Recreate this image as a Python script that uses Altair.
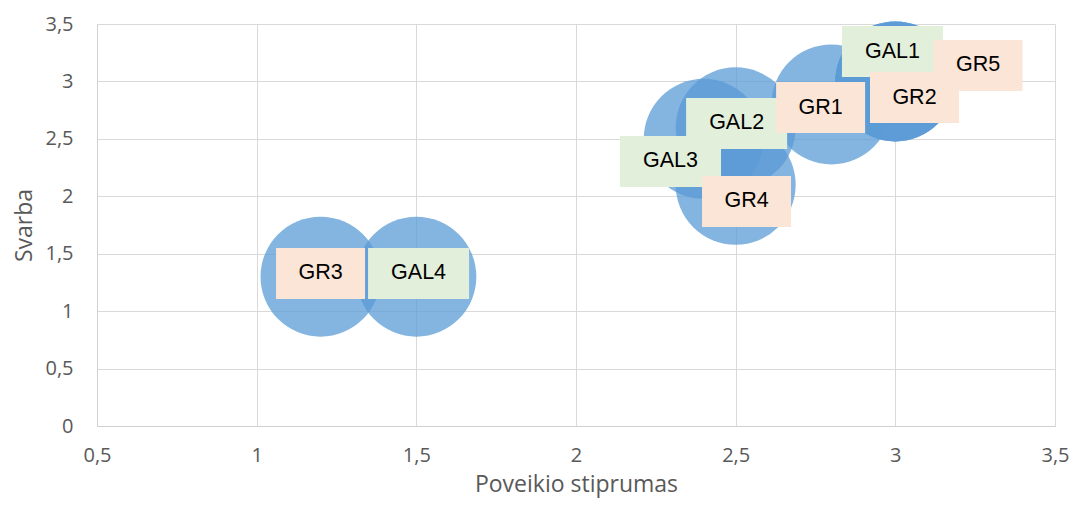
import altair as alt
import pandas as pd

# Bubble data
names = ["GAL1", "GAL2", "GAL3", "GAL4", "GR1", "GR2", "GR3", "GR4", "GR5"]
groups = ["GAL", "GAL", "GAL", "GAL", "GR", "GR", "GR", "GR", "GR"]
poveikis = [3.0, 2.5, 2.4, 1.5, 2.8, 3.0, 1.2, 2.5, 3.0]
svarba = [3.0, 2.6, 2.5, 1.3, 2.8, 3.0, 1.3, 2.1, 3.0]
# Data-label anchor positions (labels were moved by hand in the original)
label_x = [2.991, 2.503, 2.296, 1.507, 2.766, 3.060, 1.200, 2.534, 3.259]
label_y = [3.260, 2.634, 2.303, 1.328, 2.773, 2.860, 1.328, 1.955, 3.139]

x_ticks = [0.5, 1.0, 1.5, 2.0, 2.5, 3.0, 3.5]
y_ticks = [0.0, 0.5, 1.0, 1.5, 2.0, 2.5, 3.0, 3.5]

df = pd.DataFrame({
    "name": names, "group": groups, "x": poveikis, "y": svarba,
    "lx": label_x, "ly": label_y,
})

comma = "replace(toString(datum.value), '.', ',')"

xscale = alt.Scale(domain=[0.5, 3.5], nice=False, zero=False)
yscale = alt.Scale(domain=[0, 3.5], nice=False, zero=False)

xaxis = alt.Axis(values=x_ticks, labelExpr=comma, grid=True, ticks=False,
                 labelPadding=35, labelBaseline="alphabetic", labelFlush=False,
                 labelOverlap=False, title="Poveikio stiprumas",
                 titleX=479, titleY=65, titleBaseline="alphabetic")
yaxis = alt.Axis(values=y_ticks, labelExpr=comma, grid=True, ticks=False,
                 labelPadding=24, labelFlush=False, labelOverlap=False,
                 title="Svarba", titleX=-66, titleY=201,
                 titleBaseline="alphabetic")

base = alt.Chart(df)

bubbles = base.mark_circle(size=14400, color="#5b9bd5", opacity=0.75).encode(
    x=alt.X("x:Q", scale=xscale, axis=xaxis),
    y=alt.Y("y:Q", scale=yscale, axis=yaxis),
)

gal_boxes = base.transform_filter(alt.datum.group == "GAL").mark_rect(
    width=101, height=51, color="#e2efda"
).encode(
    x=alt.X("lx:Q", scale=xscale),
    y=alt.Y("ly:Q", scale=yscale),
)

gr_boxes = base.transform_filter(alt.datum.group == "GR").mark_rect(
    width=89, height=51, color="#fbe5d6"
).encode(
    x=alt.X("lx:Q", scale=xscale),
    y=alt.Y("ly:Q", scale=yscale),
)

texts = base.mark_text(font="Liberation Sans", fontSize=21.5, color="#000000",
                       align="center", baseline="middle").encode(
    x=alt.X("lx:Q", scale=xscale),
    y=alt.Y("ly:Q", scale=yscale),
    text="name:N",
)

chart = alt.layer(bubbles, gal_boxes, gr_boxes, texts).properties(
    width=958, height=402,
    padding={"left": 89, "top": 16, "right": 14, "bottom": 73},
    autosize=alt.AutoSizeParams(type="none"),
).configure_view(
    strokeWidth=0
).configure_axis(
    gridColor="#d9d9d9", gridWidth=1,
    domainColor="#d0d0d0", domainWidth=1,
    labelFont="Open Sans", labelFontSize=20, labelColor="#595959",
    titleFont="Open Sans", titleFontSize=23, titleFontWeight="normal",
    titleColor="#595959",
)

chart.save("out.html", embed_options={"renderer": "svg", "actions": False})
